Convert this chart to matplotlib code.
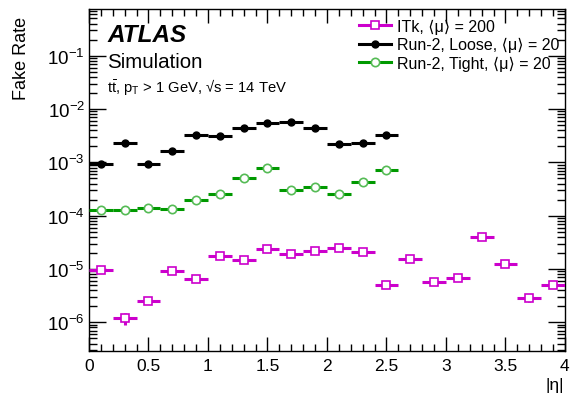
import matplotlib
matplotlib.use("Agg")
import matplotlib.pyplot as plt
from matplotlib.lines import Line2D
from matplotlib.ticker import LogLocator, MultipleLocator, FixedLocator, FixedFormatter

plt.rcParams['font.family'] = ['Liberation Sans', 'DejaVu Sans']
plt.rcParams['mathtext.fontset'] = 'custom'
plt.rcParams['mathtext.rm'] = 'Liberation Sans'
plt.rcParams['mathtext.it'] = 'Liberation Sans:italic'
plt.rcParams['mathtext.bf'] = 'Liberation Sans:bold'

# |eta| bin centres (bin width 0.2)
eta_itk = [0.1, 0.3, 0.5, 0.7, 0.9, 1.1, 1.3, 1.5, 1.7, 1.9,
           2.1, 2.3, 2.5, 2.7, 2.9, 3.1, 3.3, 3.5, 3.7, 3.9]
eta_run2 = [0.1, 0.3, 0.5, 0.7, 0.9, 1.1, 1.3, 1.5, 1.7, 1.9, 2.1, 2.3, 2.5]
half_bin = 0.1

itk = [9.4e-6, 1.2e-6, 2.5e-6, 9.2e-6, 6.6e-6, 1.72e-5, 1.48e-5, 2.36e-5, 1.9e-5, 2.19e-5,
       2.43e-5, 2.04e-5, 5.1e-6, 1.55e-5, 5.6e-6, 6.9e-6, 3.9e-5, 1.23e-5, 2.8e-6, 5.1e-6]
itk_err = [0.6e-6, 0.3e-6, 0.3e-6, 0.7e-6, 0.5e-6, 1.0e-6, 1.0e-6, 1.4e-6, 1.2e-6, 1.3e-6,
           1.4e-6, 1.3e-6, 0.5e-6, 1.0e-6, 0.5e-6, 0.6e-6, 2.0e-6, 0.9e-6, 0.4e-6, 0.5e-6]

loose = [9.4e-4, 2.35e-3, 9.4e-4, 1.62e-3, 3.2e-3, 3.1e-3, 4.4e-3, 5.5e-3, 5.6e-3, 4.4e-3,
         2.2e-3, 2.35e-3, 3.3e-3]
loose_err = [2e-5, 4e-5, 2e-5, 3e-5, 5e-5, 5e-5, 6e-5, 7e-5, 7e-5, 6e-5, 4e-5, 4e-5, 5e-5]

tight = [1.3e-4, 1.3e-4, 1.4e-4, 1.33e-4, 1.98e-4, 2.58e-4, 5.1e-4, 7.9e-4, 3.0e-4, 3.38e-4,
         2.5e-4, 4.2e-4, 7.2e-4]
tight_err = [5e-6, 5e-6, 5e-6, 5e-6, 7e-6, 8e-6, 1.2e-5, 1.5e-5, 9e-6, 1e-5, 8e-6, 1.1e-5, 1.4e-5]

labels = ["ITk, \u27e8\u03bc\u27e9 = 200",
          "Run-2, Loose, \u27e8\u03bc\u27e9 = 20",
          "Run-2, Tight, \u27e8\u03bc\u27e9 = 20"]
xticks = [0, 0.5, 1, 1.5, 2, 2.5, 3, 3.5, 4]
xtick_labels = ["0", "0.5", "1", "1.5", "2", "2.5", "3", "3.5", "4"]
yticks = [1e-6, 1e-5, 1e-4, 1e-3, 1e-2, 1e-1]

magenta = '#cc00cc'
green = '#009900'
green_mk = '#55bb55'

fig = plt.figure(figsize=(5.72, 4.10), dpi=100)
ax = fig.add_axes([0.1556, 0.1415, 0.832, 0.834])

ax.errorbar(eta_itk, itk, xerr=half_bin, yerr=itk_err, fmt='s', color=magenta,
            mfc='white', mec=magenta, ms=6, mew=1.2, elinewidth=2.2, capsize=0, zorder=3)
ax.errorbar(eta_run2, loose, xerr=half_bin, yerr=loose_err, fmt='o', color='black',
            mfc='black', mec='black', ms=5, elinewidth=2.2, capsize=0, zorder=3)
ax.errorbar(eta_run2, tight, xerr=half_bin, yerr=tight_err, fmt='o', color=green,
            mfc='white', mec=green_mk, ms=6, mew=1.2, elinewidth=2.2, capsize=0, zorder=3)

ax.set_yscale('log')
ax.set_xlim(0, 4)
ax.set_ylim(2.9e-7, 0.75)

ax.xaxis.set_major_locator(FixedLocator(xticks))
ax.xaxis.set_major_formatter(FixedFormatter(xtick_labels))
ax.xaxis.set_minor_locator(MultipleLocator(0.1))
ax.yaxis.set_major_locator(FixedLocator(yticks))
ax.yaxis.set_minor_locator(LogLocator(base=10, subs=range(2, 10), numticks=20))
ax.tick_params(which='both', direction='in', top=True, right=True, width=1)
ax.tick_params(axis='x', which='major', length=10, pad=5, labelsize=12.5)
ax.tick_params(axis='x', which='minor', length=5)
ax.tick_params(axis='y', which='major', length=12, pad=3, labelsize=13.5)
ax.tick_params(axis='y', which='minor', length=6)
for s in ax.spines.values():
    s.set_linewidth(1)

ax.text(0.038, 0.927, "ATLAS", transform=ax.transAxes, fontsize=17.5, fontweight='bold',
        fontstyle='italic', va='center', ha='left')
ax.text(0.038, 0.846, "Simulation", transform=ax.transAxes, fontsize=14.8,
        va='center', ha='left')
ax.text(0.038, 0.776, r"$\mathrm{t\bar{t}}$, p$_{\mathrm{T}}$ > 1 GeV, " + "\u221as = 14 TeV",
        transform=ax.transAxes, fontsize=10.6, va='center', ha='left')

handles = [
    Line2D([], [], color=magenta, lw=2.2, marker='s', ms=6, mfc='white', mec=magenta, mew=1.2),
    Line2D([], [], color='black', lw=2.2, marker='o', ms=5, mfc='black', mec='black'),
    Line2D([], [], color=green, lw=2.2, marker='o', ms=6, mfc='white', mec=green_mk, mew=1.2),
]
ax.legend(handles, labels, loc='upper left', bbox_to_anchor=(0.567, 0.972), frameon=False,
          fontsize=11.5, handlelength=2.0, handletextpad=0.4, labelspacing=0.22,
          borderaxespad=0, borderpad=0)

fig.text(22 / 572, 1 - 17 / 410, "Fake Rate", rotation=90, ha='center', va='top', fontsize=13)
fig.text(555 / 572, 1 - 386 / 410, "|\u03b7|", ha='center', va='center', fontsize=12.5)

fig.savefig("out.png", dpi=100)
